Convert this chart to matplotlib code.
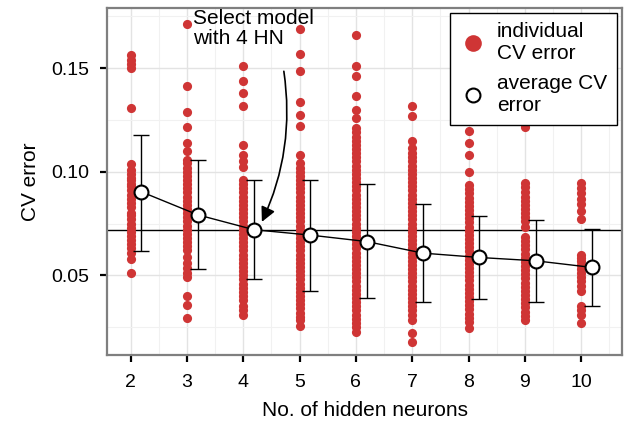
import matplotlib.pyplot as plt
from matplotlib.lines import Line2D

plt.rcParams['font.family'] = ['Liberation Sans', 'DejaVu Sans']

# hidden neurons
neurons = [2, 3, 4, 5, 6, 7, 8, 9, 10]

# individual CV errors per number of hidden neurons
cv_2 = [0.1565, 0.154, 0.152, 0.150, 0.131, 0.1035, 0.101, 0.099, 0.097, 0.096,
        0.094, 0.093, 0.091, 0.089, 0.087, 0.085, 0.083, 0.080, 0.079, 0.077,
        0.075, 0.073, 0.071, 0.069, 0.067, 0.065, 0.063, 0.061, 0.058, 0.051]
cv_3 = [0.1715, 0.1415, 0.1287, 0.1214, 0.114, 0.1098, 0.1058, 0.104, 0.102, 0.100,
        0.098, 0.096, 0.094, 0.092, 0.090, 0.088, 0.086, 0.084, 0.082, 0.080,
        0.078, 0.076, 0.074, 0.072, 0.070, 0.068, 0.066, 0.064, 0.062, 0.059,
        0.056, 0.0535, 0.051, 0.049, 0.040, 0.0357, 0.0294]
cv_4 = [0.1509, 0.1436, 0.138, 0.1315, 0.1127, 0.108, 0.105, 0.1025, 0.096, 0.094,
        0.092, 0.090, 0.088, 0.086, 0.084, 0.082, 0.080, 0.078, 0.076, 0.074,
        0.072, 0.070, 0.068, 0.066, 0.064, 0.062, 0.060, 0.058, 0.056, 0.054,
        0.052, 0.050, 0.048, 0.046, 0.044, 0.042, 0.040, 0.038, 0.035, 0.033, 0.031]
cv_5 = [0.169, 0.1569, 0.1485, 0.1335, 0.1275, 0.1222, 0.1082, 0.104, 0.102, 0.100,
        0.098, 0.096, 0.094, 0.092, 0.090, 0.088, 0.086, 0.084, 0.082, 0.080,
        0.078, 0.076, 0.074, 0.072, 0.070, 0.068, 0.066, 0.064, 0.062, 0.060,
        0.058, 0.056, 0.054, 0.052, 0.050, 0.048, 0.046, 0.044, 0.042, 0.040,
        0.038, 0.036, 0.034, 0.032, 0.030, 0.0285, 0.0253]
cv_6 = [0.1659, 0.1509, 0.1464, 0.1367, 0.130, 0.126, 0.121, 0.119, 0.117, 0.115,
        0.113, 0.111, 0.109, 0.107, 0.105, 0.103, 0.101, 0.099, 0.097, 0.095,
        0.093, 0.091, 0.089, 0.087, 0.085, 0.083, 0.081, 0.079, 0.077, 0.075,
        0.073, 0.071, 0.069, 0.067, 0.065, 0.063, 0.061, 0.059, 0.057, 0.055,
        0.053, 0.051, 0.049, 0.047, 0.045, 0.043, 0.041, 0.039, 0.037, 0.035,
        0.033, 0.031, 0.029, 0.027, 0.025, 0.0225]
cv_7 = [0.1315, 0.1267, 0.1146, 0.1116, 0.109, 0.107, 0.105, 0.103, 0.101, 0.099,
        0.097, 0.095, 0.093, 0.091, 0.089, 0.087, 0.085, 0.083, 0.081, 0.079,
        0.077, 0.075, 0.073, 0.071, 0.069, 0.067, 0.065, 0.063, 0.061, 0.059,
        0.057, 0.055, 0.053, 0.051, 0.049, 0.047, 0.045, 0.043, 0.041, 0.039,
        0.037, 0.035, 0.033, 0.031, 0.0285, 0.0222, 0.018]
cv_8 = [0.1195, 0.1139, 0.1082, 0.0997, 0.0937, 0.0915, 0.0895, 0.0875, 0.0855, 0.0835,
        0.0815, 0.0795, 0.0775, 0.0755, 0.0735, 0.0715, 0.0695, 0.0675, 0.0655, 0.0635,
        0.0615, 0.0595, 0.0575, 0.0555, 0.0535, 0.0515, 0.0495, 0.0475, 0.0455, 0.0435,
        0.0415, 0.0395, 0.0375, 0.0355, 0.0335, 0.0315, 0.0295, 0.0275, 0.0246]
cv_9 = [0.1216, 0.0947, 0.0925, 0.090, 0.088, 0.086, 0.084, 0.082, 0.080, 0.078,
        0.076, 0.0734, 0.0686, 0.0665, 0.0645, 0.0625, 0.0605, 0.0585, 0.0565, 0.0545,
        0.0525, 0.0505, 0.0485, 0.0465, 0.0445, 0.0425, 0.0405, 0.0385, 0.0365, 0.0345,
        0.0325, 0.0305, 0.0285]
cv_10 = [0.0948, 0.092, 0.0895, 0.087, 0.0845, 0.081, 0.077, 0.060, 0.0585, 0.057,
         0.055, 0.053, 0.051, 0.049, 0.047, 0.045, 0.0425, 0.035, 0.033, 0.031, 0.027]
cv_all = [cv_2, cv_3, cv_4, cv_5, cv_6, cv_7, cv_8, cv_9, cv_10]

# average CV error and error bar ends
avg_cv = [0.0903, 0.0792, 0.0720, 0.0694, 0.0663, 0.0607, 0.0586, 0.0570, 0.0538]
err_top = [0.1179, 0.1058, 0.0961, 0.0961, 0.0940, 0.0845, 0.0784, 0.0768, 0.0723]
err_bot = [0.0618, 0.0530, 0.0482, 0.0425, 0.0390, 0.0373, 0.0385, 0.0373, 0.0353]
selected_cv = 0.0719

red = '#CF3535'
fig = plt.figure(figsize=(6.26, 4.28), dpi=100)
ax = fig.add_axes([0.171, 0.171, 0.823, 0.811])

# grid
ax.set_xticks([n + 0.5 for n in range(1, 11)], minor=True)
ax.set_yticks([0.025, 0.075, 0.125, 0.175], minor=True)
ax.grid(True, which='major', color='#e3e3e3', lw=1.0, zorder=0)
ax.grid(True, which='minor', color='#f1f1f1', lw=0.8, zorder=0)

for n, vals in zip(neurons, cv_all):
    ax.plot([n] * len(vals), vals, 'o', color=red, ms=6.6, mec='none', zorder=3)

ax.axhline(selected_cv, color='black', lw=1.0, zorder=2)

x_avg = [n + 0.19 for n in neurons]
lower = [a - b for a, b in zip(avg_cv, err_bot)]
upper = [t - a for a, t in zip(avg_cv, err_top)]
ax.errorbar(x_avg, avg_cv, yerr=[lower, upper], fmt='none', ecolor='black',
            elinewidth=1.0, capsize=6, capthick=1.0, zorder=4)
ax.plot(x_avg, avg_cv, '-', color='black', lw=1.0, zorder=4)
ax.plot(x_avg, avg_cv, 'o', ms=10, mfc='white', mec='black', mew=1.5, zorder=5)

ax.text(3.1, 0.1788, 'Select model\nwith 4 HN', ha='left', va='top',
        fontsize=15, linespacing=1.1, zorder=6)
ax.annotate('', xy=(4.33, 0.0758), xytext=(4.72, 0.1485),
            arrowprops=dict(arrowstyle='-|>', color='black', lw=1.2,
                            mutation_scale=22, shrinkA=0, shrinkB=0,
                            connectionstyle='arc3,rad=-0.15'),
            zorder=6)

ax.set_xlim(1.58, 10.73)
ax.set_ylim(0.0116, 0.1792)
ax.set_xticks(neurons)
ax.set_yticks([0.05, 0.10, 0.15])
ax.set_yticklabels(['0.05', '0.10', '0.15'])
ax.tick_params(which='major', length=5, width=1.6, color='black', labelsize=14)
ax.tick_params(axis='x', pad=9)
ax.tick_params(axis='y', pad=8)
ax.tick_params(which='minor', length=0)
for s in ax.spines.values():
    s.set_color('#7f7f7f')
    s.set_linewidth(1.6)

ax.set_xlabel('No. of hidden neurons', fontsize=15, labelpad=7)
ax.set_ylabel('CV error', fontsize=15, labelpad=8)

handles = [Line2D([], [], marker='o', ls='none', color=red, ms=12, mec='none'),
           Line2D([], [], marker='o', ls='none', mfc='white', mec='black', ms=10, mew=1.5)]
leg = ax.legend(handles, ['individual\nCV error', 'average CV\nerror'],
                loc='upper right', bbox_to_anchor=(0.989, 0.986), borderaxespad=0,
                fontsize=15, frameon=True, fancybox=False, framealpha=1,
                edgecolor='black', handletextpad=0.5, borderpad=0.45,
                labelspacing=0.55, handlelength=1.3)
leg.get_frame().set_linewidth(1.0)
leg.set_zorder(7)

fig.savefig('out.png', dpi=100)
